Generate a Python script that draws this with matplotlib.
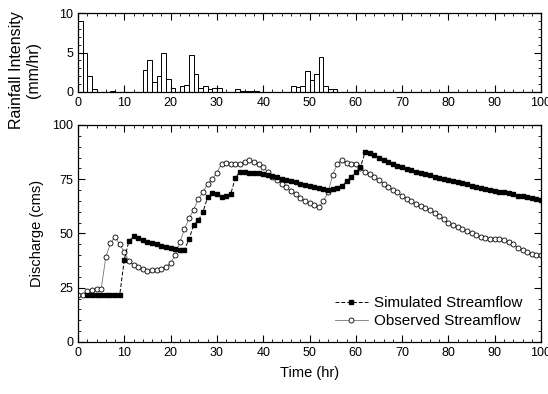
import numpy as np
import matplotlib
matplotlib.use("Agg")
import matplotlib.pyplot as plt
from matplotlib.ticker import MultipleLocator

plt.rcParams['font.family'] = ['Liberation Sans', 'DejaVu Sans']

# -----------------------------
# Rainfall (hourly bars, left edge = hour)
rain_hours = [0, 1, 2, 3, 7, 14, 15, 16, 17, 18, 19, 20, 22, 23, 24, 25, 26, 27,
              28, 29, 30, 34, 35, 36, 37, 38, 46, 47, 48, 49, 50, 51, 52, 53, 54, 55]
rain_vals = [9.0, 5.0, 2.0, 0.4, 0.1, 2.8, 4.1, 1.3, 2.0, 5.0, 1.6, 0.55, 0.7, 0.9, 4.7, 2.3, 0.45, 0.7,
             0.4, 0.5, 0.5, 0.4, 0.15, 0.1, 0.1, 0.1, 0.75, 0.65, 0.8, 2.6, 1.5, 2.25, 4.4, 0.8, 0.4, 0.4]

# -----------------------------
# Simulated streamflow (hours 2..100)
sim_hours = list(range(2, 101))
sim_vals = [21.5, 21.5, 21.5, 21.5, 21.5, 21.5, 21.5, 21.5,            # 2-9
            38.0, 46.5, 48.8, 47.8, 47.0, 46.3, 45.7, 45.0, 44.4, 43.8,  # 10-19
            43.3, 42.8, 42.5, 42.5, 47.5, 54.0, 56.0, 60.0, 66.7, 68.8,  # 20-29
            68.3, 67.0, 67.5, 68.3, 75.7, 78.5, 78.3, 78.1, 77.9, 77.7,  # 30-39
            77.4, 77.0, 76.5, 75.8, 75.0, 74.5, 74.0, 73.5, 73.0, 72.5,  # 40-49
            72.0, 71.5, 71.0, 70.5, 70.0, 70.3, 71.0, 71.8, 74.0, 76.0,  # 50-59
            78.5, 80.5, 87.5, 87.0, 86.0, 85.0, 84.0, 83.0, 82.0, 81.2,  # 60-69
            80.5, 79.8, 79.1, 78.5, 78.0, 77.4, 76.8, 76.2, 75.7, 75.2,  # 70-79
            74.7, 74.2, 73.7, 73.2, 72.6, 72.1, 71.5, 71.0, 70.6, 70.2,  # 80-89
            69.8, 69.3, 68.9, 68.5, 68.0, 67.5, 67.1, 66.7, 66.3, 66.0,  # 90-99
            65.6]                                                        # 100

# Observed streamflow (hours 0..100)
obs_hours = list(range(0, 101))
obs_vals = [21.5, 21.5, 23.5, 24.0, 24.3, 24.3, 39.0, 45.5, 48.5, 45.0,  # 0-9
            41.5, 37.5, 35.5, 34.5, 33.5, 32.5, 33.0, 33.0, 33.5, 34.5,  # 10-19
            36.5, 40.0, 46.0, 52.0, 57.0, 61.0, 66.0, 69.0, 73.0, 75.0,  # 20-29
            78.0, 82.0, 82.5, 82.0, 82.0, 82.0, 83.0, 84.0, 83.0, 82.0,  # 30-39
            80.5, 78.5, 76.0, 74.5, 73.0, 71.5, 69.5, 68.0, 66.5, 65.0,  # 40-49
            64.0, 63.0, 62.0, 65.0, 69.0, 77.0, 82.0, 84.0, 82.5, 82.0,  # 50-59
            82.0, 80.0, 78.5, 77.5, 76.0, 74.5, 73.0, 71.5, 70.0, 69.0,  # 60-69
            67.5, 66.0, 65.0, 63.5, 62.8, 61.8, 60.8, 59.5, 58.0, 56.5,  # 70-79
            55.0, 53.8, 52.8, 52.0, 51.0, 50.2, 49.5, 48.6, 48.1, 47.6,  # 80-89
            47.5, 47.5, 47.2, 46.3, 45.0, 43.5, 42.3, 41.5, 40.7, 40.3,  # 90-99
            40.0]                                                        # 100

fig = plt.figure(figsize=(5.48, 3.94), dpi=100)
ax1 = fig.add_axes([0.1423, 0.7665, 0.845, 0.2005])
ax2 = fig.add_axes([0.1423, 0.132, 0.845, 0.5508])

fs = 9

def style_axis(ax, ymajor, yminor):
    ax.xaxis.set_major_locator(MultipleLocator(10))
    ax.xaxis.set_minor_locator(MultipleLocator(2))
    ax.yaxis.set_major_locator(MultipleLocator(ymajor))
    ax.yaxis.set_minor_locator(MultipleLocator(yminor))
    ax.tick_params(which='both', direction='in', top=True, right=True, labelsize=fs)
    ax.tick_params(which='major', length=5, width=0.8)
    ax.tick_params(which='minor', length=2.5, width=0.6)
    for s in ax.spines.values():
        s.set_linewidth(0.9)

# --- Rainfall panel
ax1.bar(rain_hours, rain_vals, width=1.0, align='edge', facecolor='white',
        edgecolor='black', linewidth=0.7)
ax1.set_xlim(0, 100)
ax1.set_ylim(0, 10)
style_axis(ax1, 5, 1)
# label sits a bit lower than the panel centre, as in the original
fig.text(25 / 548, 1 - 70 / 394, "Rainfall Intensity\n(mm/hr)", rotation=90,
         ha='center', va='center', multialignment='center', fontsize=11.5,
         linespacing=1.15)

# --- Discharge panel
ax2.plot(obs_hours, obs_vals, color='#777777', linewidth=0.6, marker='o',
         markersize=3.6, markerfacecolor='white', markeredgecolor='black',
         markeredgewidth=0.6, label='Observed Streamflow', zorder=2)
ax2.plot(sim_hours, sim_vals, color='black', linestyle=(0, (4, 2)), linewidth=0.7,
         marker='s', markersize=3.2, markerfacecolor='black', markeredgecolor='black',
         label='Simulated Streamflow', zorder=3)
ax2.set_xlim(0, 100)
ax2.set_ylim(0, 100)
style_axis(ax2, 25, 5)
ax2.set_ylabel("Discharge (cms)", fontsize=10.5, labelpad=6)
ax2.set_xlabel("Time (hr)", fontsize=10.5, labelpad=5)

h, l = ax2.get_legend_handles_labels()
ax2.legend(h[::-1], l[::-1], loc='lower right', bbox_to_anchor=(0.99, 0.0),
           frameon=False, fontsize=11, handlelength=2.2, handletextpad=0.4,
           labelspacing=0.25)

fig.savefig("out.png", dpi=100)
